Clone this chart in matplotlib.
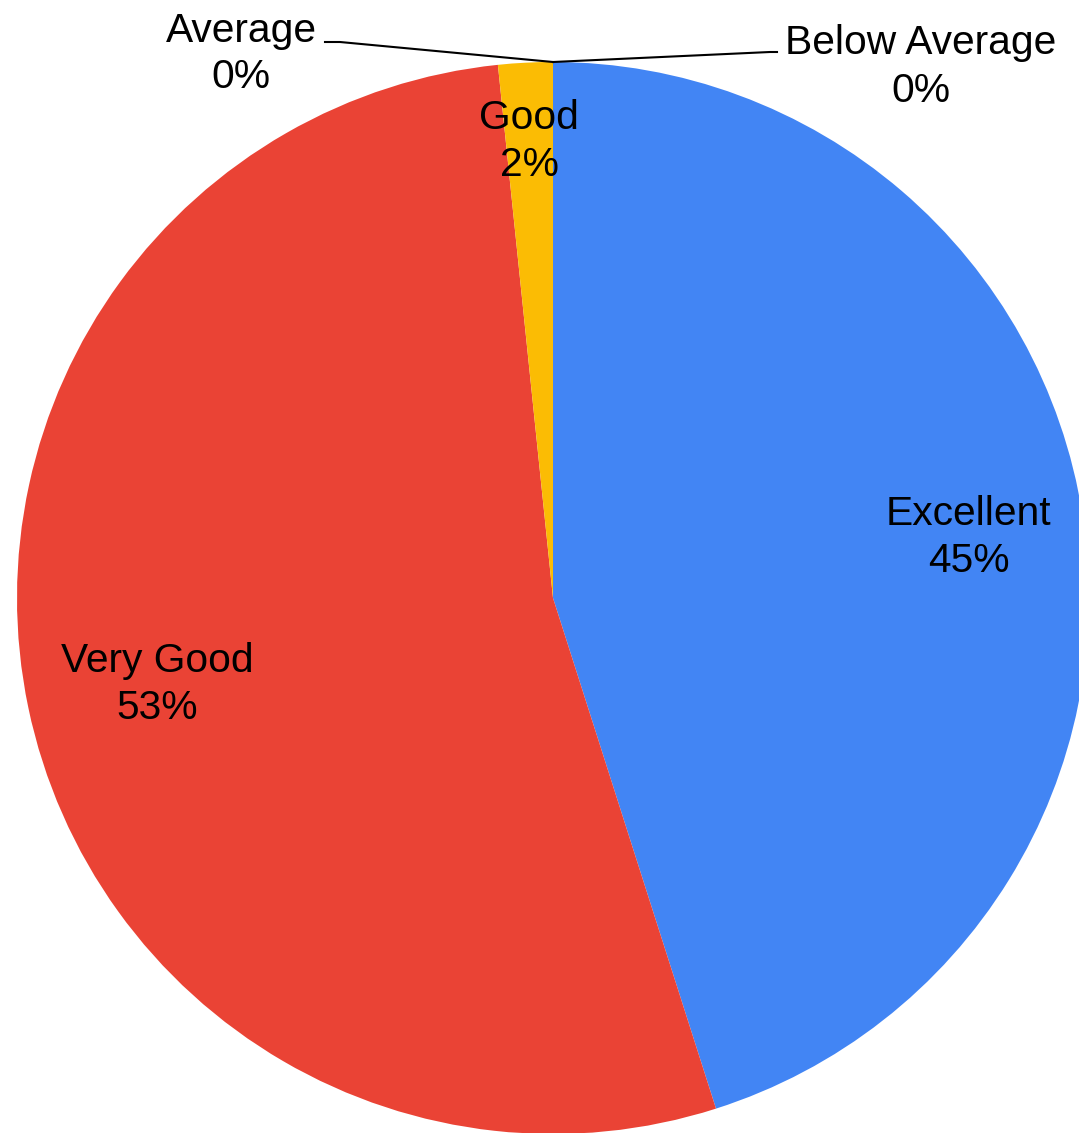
import matplotlib
matplotlib.use('Agg')
from matplotlib import pyplot as plt
import numpy

categories = ['Excellent', 'Very Good', 'Good', 'Average', 'Below Average']
counts = [55, 65, 2, 0, 0]
colors = ['#4285F4', '#EA4335', '#FBBC04', '#34A853', '#FF6D01']

plt.rcParams['font.family'] = ['Liberation Sans', 'DejaVu Sans']

W, H = 1079, 1133
FS = 29.3
fig = plt.figure(figsize=(W / 100, H / 100), dpi=100)
ax = fig.add_axes([0, 0, 1, 1])
ax.axis('off')

cx, cy, r = 553, H - 598, 536

nonzero = [(c, v, col) for c, v, col in zip(categories, counts, colors) if v > 0]
wedges, _ = ax.pie([v for _, v, _ in nonzero], colors=[col for _, _, col in nonzero],
                   startangle=90, counterclock=False, center=(cx, cy), radius=r,
                   wedgeprops=dict(linewidth=0))
ax.set_xlim(0, W)
ax.set_ylim(0, H)
ax.set_aspect('auto')

total = float(sum(counts))
label_dist = {'Excellent': 0.785, 'Very Good': 0.755, 'Good': 0.86}
for w, (name, v, _) in zip(wedges, nonzero):
    ang = numpy.deg2rad((w.theta1 + w.theta2) / 2)
    d = label_dist[name] * r
    ax.text(cx + d * numpy.cos(ang), cy + d * numpy.sin(ang) - 4,
            '{}\n{:.0f}%'.format(name, 100 * v / total),
            ha='center', va='center', fontsize=FS, linespacing=1.3, color='black')

# zero-value slices sit at the top with leader lines
top = (cx, cy + r)
ax.plot([top[0], 340, 325], [top[1], H - 42, H - 42], color='black', lw=1.5)
ax.text(241, H - 54, '{}\n{:.0f}%'.format(categories[3], 100 * counts[3] / total),
        ha='center', va='center', fontsize=FS, linespacing=1.3, color='black')
ax.plot([top[0], 770, 777], [top[1], H - 52, H - 52], color='black', lw=1.5)
ax.text(921, H - 67, '{}\n{:.0f}%'.format(categories[4], 100 * counts[4] / total),
        ha='center', va='center', fontsize=FS, linespacing=1.3, color='black')

plt.savefig('out.png', dpi=100)
